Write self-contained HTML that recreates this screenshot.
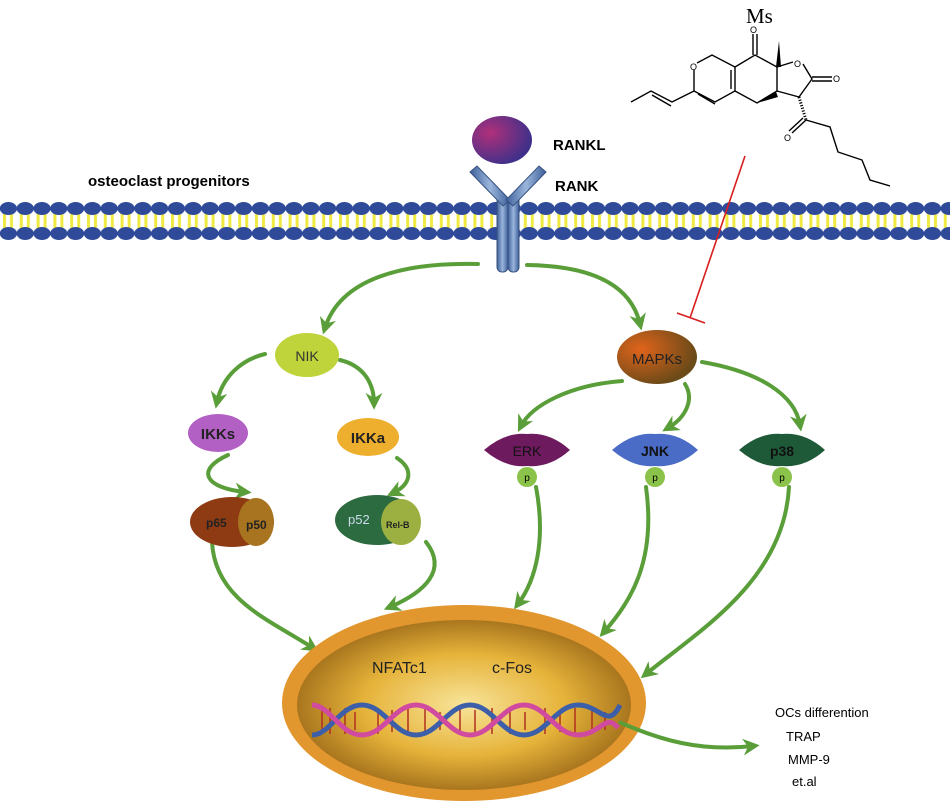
<!DOCTYPE html>
<html><head><meta charset="utf-8"><style>
html,body{margin:0;padding:0;background:#fff;}
svg{display:block;font-family:"Liberation Sans",Arial,sans-serif;}
</style></head><body>
<svg width="950" height="806" viewBox="0 0 950 806" xmlns="http://www.w3.org/2000/svg">
<defs>
<pattern id="mem" x="0" y="200" width="16.8" height="42" patternUnits="userSpaceOnUse">
<rect x="3" y="13" width="3" height="16" fill="#f0ea40"/>
<rect x="10" y="13" width="3" height="16" fill="#f0ea40"/>
<ellipse cx="8.4" cy="8.5" rx="8.6" ry="6.5" fill="#2e4a98"/>
<ellipse cx="8.4" cy="33.5" rx="8.6" ry="6.5" fill="#2e4a98"/>
</pattern>
<radialGradient id="nuc" cx="50%" cy="50%" r="50%"><stop offset="0" stop-color="#f8e49a"/><stop offset="0.6" stop-color="#e6b33a"/><stop offset="1" stop-color="#a9761e"/></radialGradient>
<radialGradient id="lig" cx="30%" cy="35%" r="70%"><stop offset="0" stop-color="#b0307a"/><stop offset="1" stop-color="#40308a"/></radialGradient>
<radialGradient id="mapk" cx="30%" cy="35%" r="70%"><stop offset="0" stop-color="#e0641c"/><stop offset="1" stop-color="#6a4a18"/></radialGradient>
<linearGradient id="rec" x1="0" x2="1"><stop offset="0" stop-color="#3e5f9a"/><stop offset="0.5" stop-color="#9ab6dc"/><stop offset="1" stop-color="#3e5f9a"/></linearGradient>
<marker id="ah" viewBox="0 0 10 10" refX="6" refY="5" markerWidth="4.2" markerHeight="4.2" orient="auto"><path d="M0,0 L10,5 L0,10 L3,5 z" fill="#5a9e3a"/></marker>
</defs>

<!-- membrane -->
<rect x="0" y="200" width="950" height="42" fill="url(#mem)"/>

<!-- receptor -->
<g fill="url(#rec)" stroke="#34507e" stroke-width="1">
<rect x="497" y="196" width="11" height="76" rx="5"/>
<rect x="508" y="196" width="11" height="76" rx="5"/>
<path d="M470,172 L477,166 L510,200 L503,206 z"/>
<path d="M546,172 L539,166 L506,200 L513,206 z"/>
</g>
<ellipse cx="502" cy="140" rx="30" ry="24" fill="url(#lig)"/>
<text x="553" y="150" font-size="15" font-weight="bold">RANKL</text>
<text x="555" y="191" font-size="15" font-weight="bold">RANK</text>
<text x="88" y="186" font-size="15" font-weight="bold">osteoclast  progenitors</text>

<!-- Ms structure -->
<text x="746" y="23" font-size="21" font-family="Liberation Serif,serif">Ms</text>
<g stroke="#000" stroke-width="1.4" fill="none">
<path d="M631,102 L651,91 L672,102 L694,91"/>
<path d="M652,95 L671,106"/>
<path d="M694,91 L694,70 M697,63 L712,55 L735,67 L735,91 L715,102 L694,91"/>
<path d="M698,94 L715,104 M731,70 L731,89"/>
<path d="M735,67 L755,55 L777,67 L777,91 L757,103 L735,91"/>
<path d="M753,55 L753,34 M757,55 L757,34"/>
<path d="M777,67 L793,62 M803,64 L812,79 L799,97 L777,91"/>
<path d="M812,77 L832,77 M812,81 L832,81"/>
<path d="M806,120 L792,133 M803,118 L789,131"/>
<path d="M806,120 L830,127 L838,152 L862,160 L870,180 L890,186"/>
</g>
<path d="M776,67 L779,41 L781,67 z" fill="#000"/>
<path d="M757,103 L776,92 L778,97 z" fill="#000"/>
<path d="M799,97 L806,120" stroke="#000" stroke-width="3" stroke-dasharray="1.2,1.6"/>
<text x="690" y="70" font-size="9">O</text>
<text x="750" y="33" font-size="9">O</text>
<text x="794" y="67" font-size="9">O</text>
<text x="833" y="82" font-size="9">O</text>
<text x="784" y="141" font-size="9">O</text>

<!-- inhibition -->
<path d="M745,156 L690,318 M677,313 L705,323" stroke="#d81e1e" stroke-width="1.6" fill="none"/>

<!-- arrows -->
<g stroke="#5a9e3a" stroke-width="4" fill="none" marker-end="url(#ah)" stroke-linecap="round">
<path d="M478,264 C400,262 340,280 325,328"/>
<path d="M527,265 C600,266 632,290 640,324"/>
<path d="M265,354 C240,360 222,378 217,402"/>
<path d="M340,360 C365,366 374,385 374,403"/>
<path d="M228,455 C195,470 205,488 245,492"/>
<path d="M397,458 C415,470 410,485 393,493"/>
<path d="M622,381 C570,385 532,405 521,426"/>
<path d="M685,384 C695,400 685,418 668,428"/>
<path d="M702,362 C760,372 795,395 800,425"/>
<path d="M212,542 C215,600 270,620 313,648"/>
<path d="M426,542 C448,570 425,592 390,607"/>
<path d="M536,487 C546,540 536,580 518,604"/>
<path d="M646,487 C656,560 632,600 604,632"/>
<path d="M789,487 C784,580 700,630 646,674"/>
</g>

<!-- nucleus -->
<ellipse cx="464" cy="703" rx="182" ry="98" fill="#e2962e"/>
<ellipse cx="464" cy="705" rx="167" ry="85" fill="url(#nuc)"/>
<text x="372" y="673" font-size="16" fill="#222">NFATc1</text>
<text x="492" y="673" font-size="16" fill="#222">c-Fos</text>
<!-- DNA -->
<g fill="none">
<g stroke="#b03020" stroke-width="1.5">
<path d="M322,710v22 M330,708v26 M345,708v26 M355,712v18 M378,708v26 M392,710v22 M408,708v26 M425,708v26 M440,712v18 M460,708v26 M475,710v22 M492,708v26 M510,708v26 M525,712v18 M545,708v26 M560,710v22 M575,708v26 M592,708v26 M605,712v18"/>
</g>
<path d="M312,735 C330,735 340,705 362,705 C384,705 394,735 416,735 C438,735 448,705 470,705 C492,705 502,735 524,735 C546,735 556,705 578,705 C600,705 608,730 620,705" stroke="#3d5ea8" stroke-width="5"/>
<path d="M312,705 C330,705 340,735 362,735 C384,735 394,705 416,705 C438,705 448,735 470,735 C492,735 502,705 524,705 C546,705 556,735 578,735 C600,735 606,712 618,728" stroke="#d04aa0" stroke-width="5"/>
</g>
<path d="M619,722 C660,740 700,752 753,746" stroke="#5a9e3a" stroke-width="4" fill="none" marker-end="url(#ah)"/>
<text x="775" y="717" font-size="13">OCs differention</text>
<text x="786" y="741" font-size="13">TRAP</text>
<text x="788" y="764" font-size="13">MMP-9</text>
<text x="792" y="786" font-size="13">et.al</text>

<!-- nodes -->
<ellipse cx="307" cy="355" rx="32" ry="22" fill="#bed43a"/>
<text x="307" y="361" font-size="14" text-anchor="middle" fill="#333">NIK</text>
<ellipse cx="657" cy="357" rx="40" ry="27" fill="url(#mapk)"/>
<text x="657" y="364" font-size="15" text-anchor="middle" fill="#222">MAPKs</text>
<ellipse cx="218" cy="433" rx="30" ry="19" fill="#b260c4"/>
<text x="218" y="439" font-size="15" font-weight="bold" text-anchor="middle" fill="#222">IKKs</text>
<ellipse cx="368" cy="437" rx="31" ry="19" fill="#eeae2e"/>
<text x="368" y="443" font-size="15" font-weight="bold" text-anchor="middle" fill="#222">IKKa</text>
<ellipse cx="232" cy="522" rx="42" ry="25" fill="#8e3a12"/>
<ellipse cx="256" cy="522" rx="18" ry="24" fill="#a87420"/>
<text x="206" y="527" font-size="12" font-weight="bold" fill="#222">p65</text>
<text x="246" y="529" font-size="12" font-weight="bold" fill="#222">p50</text>
<ellipse cx="377" cy="520" rx="42" ry="25" fill="#2c6a40"/>
<ellipse cx="401" cy="522" rx="20" ry="23" fill="#9bb040"/>
<text x="348" y="524" font-size="13" fill="#cde">p52</text>
<text x="386" y="528" font-size="9" font-weight="bold" fill="#222">Rel-B</text>
<g>
<circle cx="527" cy="477" r="10" fill="#8bc34a"/>
<path d="M484,450 Q505,432 527,434 Q550,432 570,450 Q550,468 527,466 Q505,468 484,450 z" fill="#6e1a5e"/>
<text x="527" y="456" font-size="14" text-anchor="middle" fill="#111">ERK</text>
<text x="527" y="481" font-size="10" text-anchor="middle">p</text>
<circle cx="655" cy="477" r="10" fill="#8bc34a"/>
<path d="M612,450 Q633,432 655,434 Q678,432 698,450 Q678,468 655,466 Q633,468 612,450 z" fill="#4a6cc6"/>
<text x="655" y="456" font-size="14" font-weight="bold" text-anchor="middle" fill="#111">JNK</text>
<text x="655" y="481" font-size="10" text-anchor="middle">p</text>
<circle cx="782" cy="477" r="10" fill="#8bc34a"/>
<path d="M739,450 Q760,432 782,434 Q805,432 825,450 Q805,468 782,466 Q760,468 739,450 z" fill="#1f5a38"/>
<text x="782" y="456" font-size="14" font-weight="bold" text-anchor="middle" fill="#111">p38</text>
<text x="782" y="481" font-size="10" text-anchor="middle">p</text>
</g>
</svg>
</body></html>
